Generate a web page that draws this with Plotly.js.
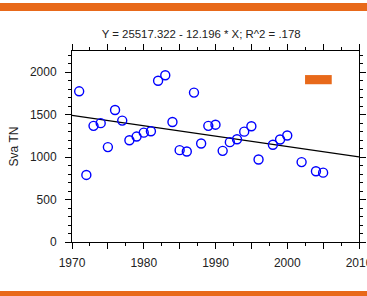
<!DOCTYPE html>
<html>
<head>
<meta charset="utf-8">
<script src="https://cdn.plot.ly/plotly-3.0.1.min.js"></script>
<style>
html,body{margin:0;padding:0;background:#fff;}
#wrap{position:relative;width:367px;height:296px;overflow:hidden;}
#chart{position:absolute;left:0;top:0;width:367px;height:296px;}
.bar{position:absolute;left:0;width:367px;background:#E8691A;}
</style>
</head>
<body>
<div id="wrap">
<div id="chart"></div>
<div class="bar" style="top:3px;height:8px;"></div>
<div class="bar" style="top:291px;height:5px;"></div>
</div>
<script>
// Observations (year, Sva TN)
const years = [1971,1972,1973,1974,1975,1976,1977,1978,1979,1980,1981,1982,1983,1984,1985,1986,1987,1988,1989,1990,1991,1992,1993,1994,1995,1996,1998,1999,2000,2002,2004,2005];
const svaTN = [1775,790,1368,1400,1118,1555,1430,1198,1242,1288,1305,1900,1964,1414,1082,1066,1760,1160,1368,1382,1074,1176,1210,1300,1364,972,1146,1207,1254,941,833,817];

// Fit from the chart title
const fitIntercept = 25517.322;
const fitSlope = -12.196;
const fitRange = [1970, 2010];
const titleText = "Y = 25517.322 - 12.196 * X; R^2 = .178";

const xTickVals = [1970,1975,1980,1985,1990,1995,2000,2005,2010];
const xTickText = ["1970","","1980","","1990","","2000","","2010"];
const yTickVals = [0,500,1000,1500,2000];
const yTickText = ["0","500","1000","1500","2000"];

const fitY = fitRange.map(x => fitIntercept + fitSlope * x);

const font = {family: '"Liberation Sans", Arial, sans-serif', size: 12, color: '#222'};

const traces = [
  {x: fitRange, y: fitY, mode: 'lines', line: {color: '#000', width: 1.3}, hoverinfo: 'skip', showlegend: false, cliponaxis: false},
  {x: years, y: svaTN, mode: 'markers', showlegend: false,
   marker: {symbol: 'circle-open', size: 9, color: '#0000FF', line: {width: 1.4, color: '#0000FF'}}}
];

const layout = {
  width: 367, height: 296,
  margin: {l: 72, r: 8, t: 51, b: 54, pad: 0},
  paper_bgcolor: 'rgba(0,0,0,0)', plot_bgcolor: '#fff',
  font: font,
  showlegend: false,
  title: {text: titleText, font: {family: font.family, size: 11.4, color: '#222'}, x: 0.45, xanchor: 'center', y: 0.885, yanchor: 'middle', xref: 'paper'},
  xaxis: {
    range: fitRange, tickmode: 'array', tickvals: xTickVals, ticktext: xTickText,
    ticks: 'outside', ticklen: 6, tickwidth: 1, tickcolor: '#000',
    minor: {dtick: 2.5, tick0: 1970, ticks: 'outside', ticklen: 3, tickwidth: 1, tickcolor: '#000', showgrid: false},
    showline: true, linecolor: '#000', linewidth: 1, mirror: 'allticks',
    showgrid: false, zeroline: false, ticklabelstandoff: 4, ticklabeloverflow: 'allow',
    tickfont: font
  },
  yaxis: {
    range: [0, 2250], tickmode: 'array', tickvals: yTickVals, ticktext: yTickText,
    ticks: 'outside', ticklen: 6, tickwidth: 1, tickcolor: '#000',
    minor: {dtick: 100, tick0: 0, ticks: 'outside', ticklen: 3, tickwidth: 1, tickcolor: '#000', showgrid: false},
    showline: true, linecolor: '#000', linewidth: 1, mirror: 'allticks',
    showgrid: false, zeroline: false, ticklabelstandoff: 6, ticklabeloverflow: 'allow',
    title: {text: 'Sva TN', font: {family: font.family, size: 12, color: '#222'}, standoff: 8},
    tickfont: font
  },
  shapes: [
    {type: 'rect', xref: 'paper', yref: 'paper', x0: 0.812, x1: 0.905, y0: 0.826, y1: 0.874,
     fillcolor: '#E8691A', line: {width: 0}}
  ]
};

Plotly.newPlot('chart', traces, layout, {staticPlot: true, displayModeBar: false});
</script>
</body>
</html>
